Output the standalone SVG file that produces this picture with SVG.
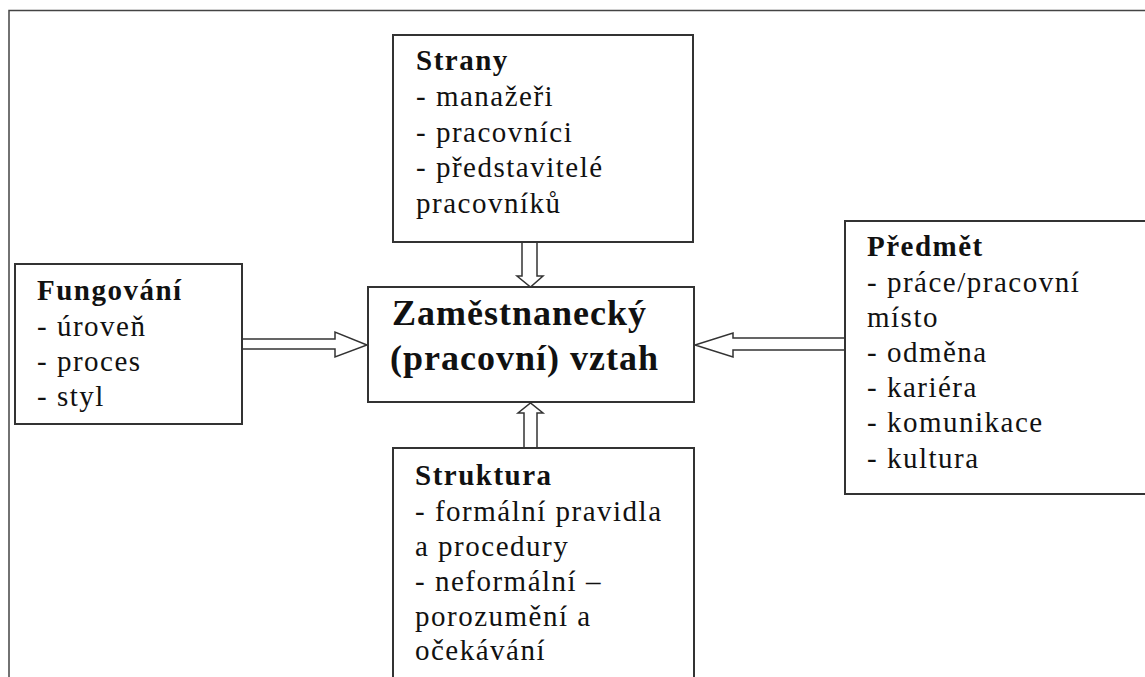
<svg xmlns="http://www.w3.org/2000/svg" width="1145" height="677" viewBox="0 0 1145 677">
<style>
.box{fill:#fff;stroke:#333;stroke-width:2}
.frame{fill:none;stroke:#444;stroke-width:1.5}
.t{font-family:"Liberation Serif","Times New Roman",serif;font-size:29px;letter-spacing:1.5px;fill:#111}
.b{font-weight:bold}
.big{font-family:"Liberation Serif","Times New Roman",serif;font-size:36px;font-weight:bold;letter-spacing:1px;fill:#111}
.arr{fill:#fff;stroke:#333;stroke-width:1.5;stroke-linejoin:miter}
</style>
<rect width="1145" height="677" fill="#fff"/>
<path class="frame" d="M9,690 L9,10.5 L1150,10.5"/>

<g id="connectors">
<polygon class="arr" points="242,339 335,339 335,332 367,345 335,357 335,349 242,349"/>
<polygon class="arr" points="845,338 733,338 733,333 695,345 733,357 733,350 845,350"/>
<polygon class="arr" points="522,242 522,276 517,276 530.5,287 543,276 537,276 537,242"/>
<polygon class="arr" points="524,448 524,413 518,413 530.5,403 543,413 537,413 537,448"/>
</g>

<g id="strany">
<rect class="box" x="393" y="35" width="300" height="207"/>
<text class="t b" x="416" y="70">Strany</text>
<text class="t" x="416" y="106">- manažeři</text>
<text class="t" x="416" y="142">- pracovníci</text>
<text class="t" x="416" y="177">- představitelé</text>
<text class="t" x="416" y="213">pracovníků</text>
</g>

<g id="fungovani">
<rect class="box" x="15" y="264" width="227" height="160"/>
<text class="t b" x="37" y="300">Fungování</text>
<text class="t" x="37" y="336">- úroveň</text>
<text class="t" x="37" y="371">- proces</text>
<text class="t" x="37" y="406">- styl</text>
</g>

<g id="vztah">
<rect class="box" x="368" y="287" width="326" height="115"/>
<text class="big" x="392" y="325">Zaměstnanecký</text>
<text class="big" x="390" y="370">(pracovní) vztah</text>
</g>

<g id="predmet">
<rect class="box" x="845" y="221" width="310" height="273"/>
<text class="t b" x="867" y="256">Předmět</text>
<text class="t" x="867" y="292">- práce/pracovní</text>
<text class="t" x="867" y="327">místo</text>
<text class="t" x="867" y="362">- odměna</text>
<text class="t" x="867" y="397">- kariéra</text>
<text class="t" x="867" y="432">- komunikace</text>
<text class="t" x="867" y="468">- kultura</text>
</g>

<g id="struktura">
<rect class="box" x="393" y="448" width="301" height="232"/>
<text class="t b" x="415" y="485">Struktura</text>
<text class="t" x="415" y="521">- formální pravidla</text>
<text class="t" x="415" y="556">a procedury</text>
<text class="t" x="415" y="591">- neformální –</text>
<text class="t" x="415" y="626">porozumění a</text>
<text class="t" x="415" y="660">očekávání</text>
</g>
</svg>
